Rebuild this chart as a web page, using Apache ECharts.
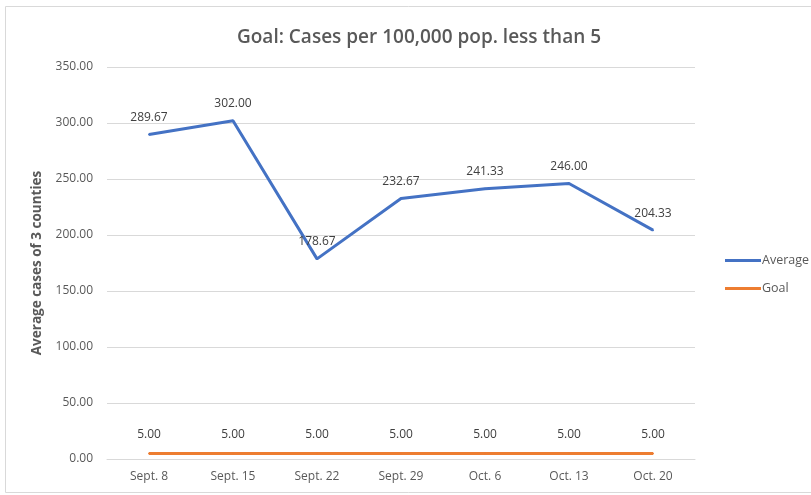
<!DOCTYPE html>
<html><head><meta charset="utf-8">
<script src="https://cdn.jsdelivr.net/npm/echarts@6/dist/echarts.min.js"></script>
<style>html,body{margin:0;padding:0;background:#fff}#c{width:811px;height:495px}</style>
</head><body><div id="c"></div>
<script>
const categories = ["Sept. 8","Sept. 15","Sept. 22","Sept. 29","Oct. 6","Oct. 13","Oct. 20"];
const averageValues = [289.67, 302.00, 178.67, 232.67, 241.33, 246.00, 204.33];
const goalValues = [5, 5, 5, 5, 5, 5, 5];
const yTicks = {min: 0, max: 350, interval: 50};

const chart = echarts.init(document.getElementById('c'));
const font = "'Open Sans', sans-serif";
chart.setOption({
  animation: false,
  textStyle: {fontFamily: font},
  title: {
    text: 'Goal: Cases per 100,000 pop. less than 5',
    left: 414, top: 23, textAlign: 'center',
    textStyle: {fontFamily: font, fontSize: 19, fontWeight: 600, color: '#595959'}
  },
  graphic: [{type: 'rect', shape: {x: 5.5, y: 6.5, width: 820, height: 486}, style: {fill: 'none', stroke: '#d9d9d9', lineWidth: 1}, silent: true}],
  legend: {
    orient: 'vertical', left: 720, top: 249, itemWidth: 36, itemHeight: 3, itemGap: 15,
    icon: 'rect',
    textStyle: {fontFamily: font, fontSize: 12.5, color: '#595959', padding: [0,0,0,-4]},
    data: ['Average', 'Goal']
  },
  grid: {left: 107, right: 116, top: 67, bottom: 36},
  xAxis: {
    type: 'category', data: categories, boundaryGap: true,
    axisLine: {show: true, lineStyle: {color: '#d9d9d9'}},
    axisTick: {show: false},
    axisLabel: {color: '#595959', fontSize: 12, margin: 12, fontFamily: font}
  },
  yAxis: {
    type: 'value', min: yTicks.min, max: yTicks.max, interval: yTicks.interval,
    name: 'Average cases of 3 counties', nameLocation: 'middle', nameGap: 61,
    nameTextStyle: {fontFamily: font, fontSize: 13.5, fontWeight: 'bold', color: '#595959'},
    axisLine: {show: false}, axisTick: {show: false},
    axisLabel: {color: '#595959', fontSize: 12, margin: 14, fontFamily: font, formatter: v => v.toFixed(2)},
    splitLine: {lineStyle: {color: '#d9d9d9'}}
  },
  series: [
    {name: 'Average', type: 'line', data: averageValues, showSymbol: true, symbol: 'circle', symbolSize: 2,
     lineStyle: {color: '#4472C4', width: 3}, itemStyle: {color: '#4472C4'},
     label: {show: true, position: 'top', distance: 10, color: '#404040', fontSize: 12, fontFamily: font, formatter: p => p.value.toFixed(2)}},
    {name: 'Goal', type: 'line', data: goalValues, showSymbol: true, symbol: 'circle', symbolSize: 2,
     lineStyle: {color: '#ED7D31', width: 3}, itemStyle: {color: '#ED7D31'},
     label: {show: true, position: 'top', distance: 12, color: '#404040', fontSize: 12, fontFamily: font, formatter: p => p.value.toFixed(2)}}
  ]
});
</script></body></html>
